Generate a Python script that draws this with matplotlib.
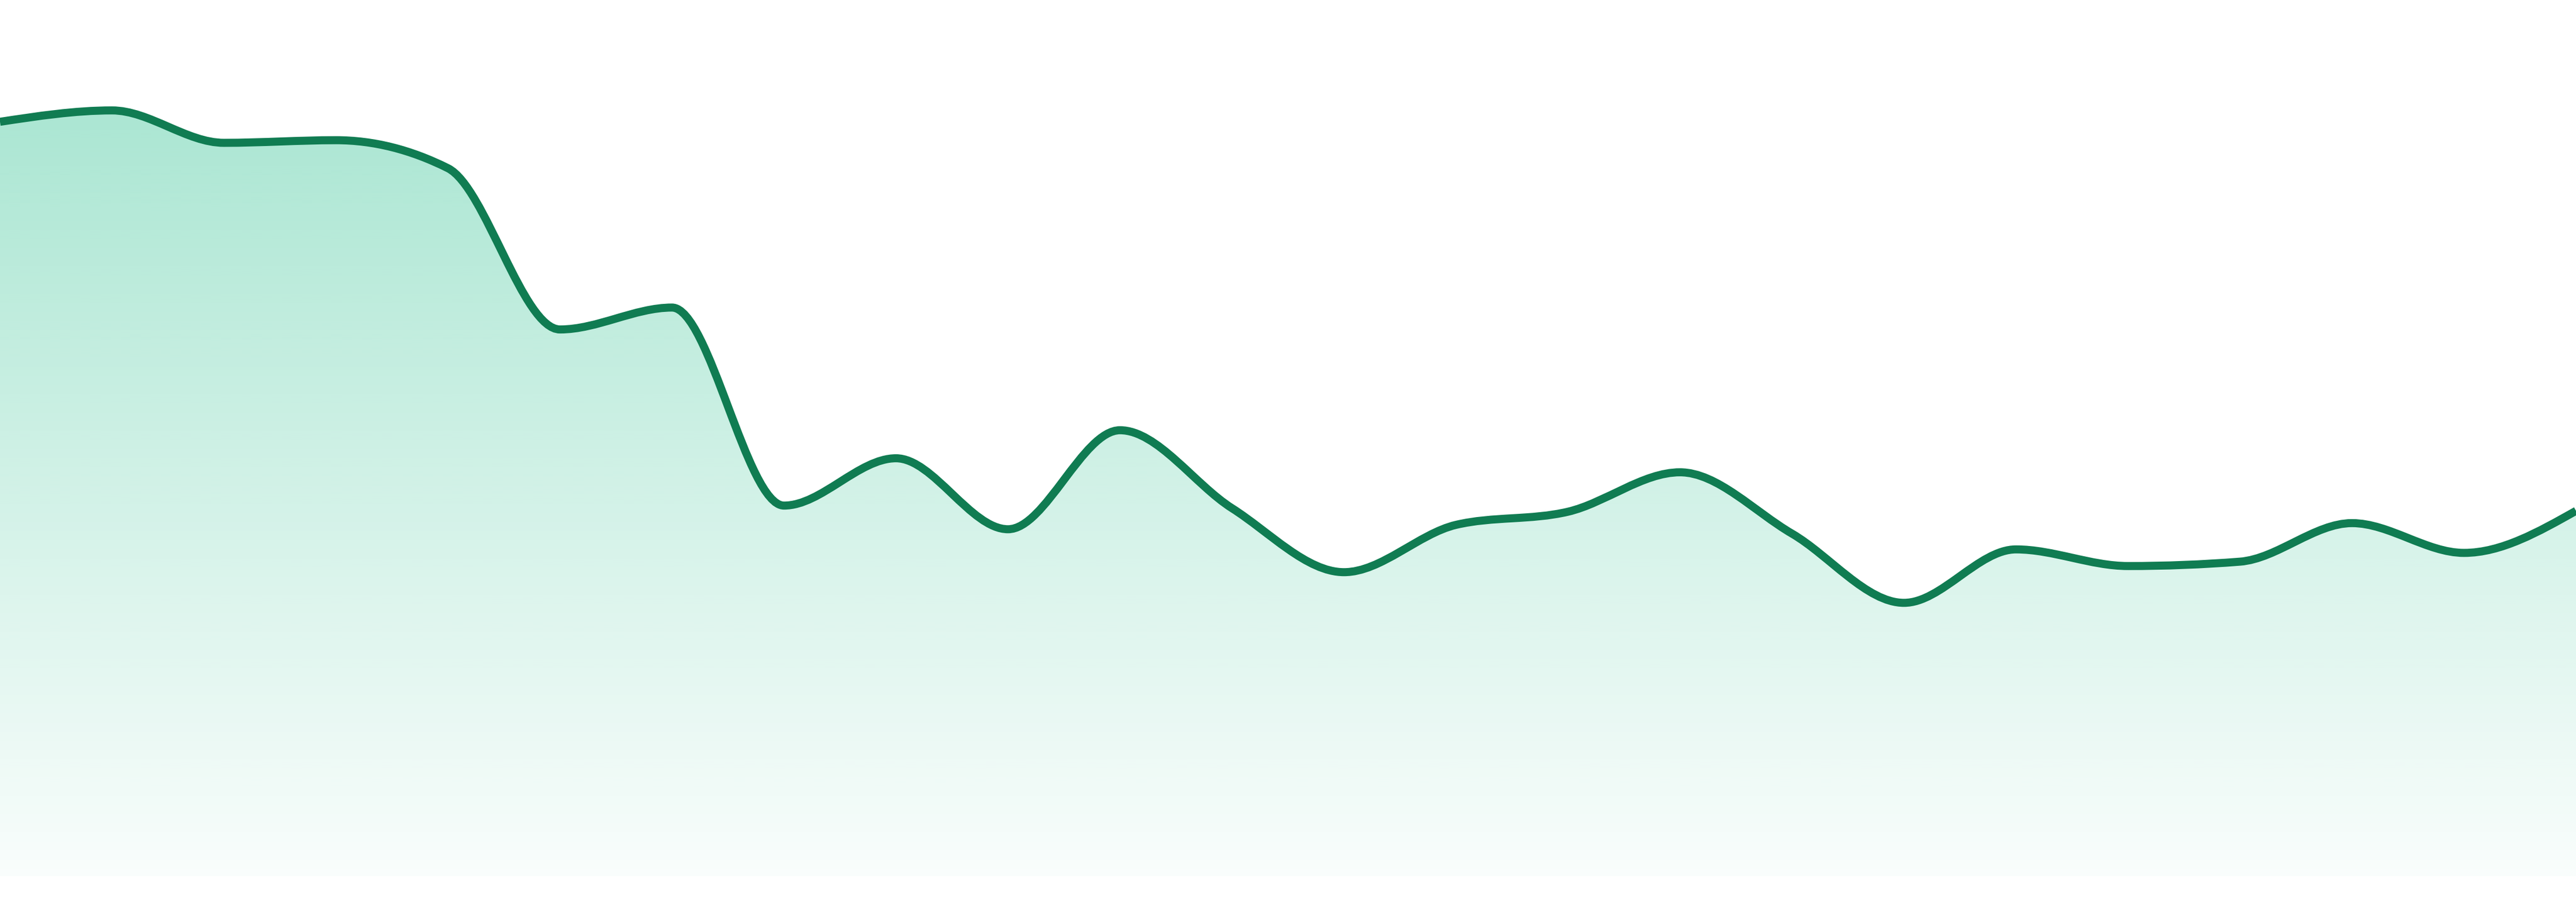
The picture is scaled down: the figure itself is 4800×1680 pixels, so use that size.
import numpy as np
import matplotlib
matplotlib.use('Agg')
import matplotlib.pyplot as plt
from matplotlib.path import Path
from matplotlib.patches import PathPatch

# series (0 = baseline, 100 = top of plot area)
values = [86.1, 87.4, 83.7, 84.0, 80.8, 62.4, 64.9, 42.3, 47.7, 39.6, 50.9, 42.0,
          34.7, 40.1, 41.6, 46.1, 39.1, 31.2, 37.3, 35.4, 35.9, 40.3, 36.9, 41.7]
steps = list(range(len(values)))

line_color = '#107c52'
fill_rgb = (16 / 255, 185 / 255, 129 / 255)
y_max = 100


def monotone_tangents(x, y):
    # same rule as d3.curveMonotoneX
    n = len(x)
    h = np.diff(x)
    s = np.diff(y) / h
    t = np.zeros(n)
    for i in range(1, n - 1):
        p = (s[i - 1] * h[i] + s[i] * h[i - 1]) / (h[i - 1] + h[i])
        sg = (1 if s[i - 1] >= 0 else -1) + (1 if s[i] >= 0 else -1)
        t[i] = sg * min(abs(s[i - 1]), abs(s[i]), 0.5 * abs(p))
    t[0] = (3 * s[0] - t[1]) / 2
    t[-1] = (3 * s[-1] - t[-2]) / 2
    return t


def curve_verts(x, y):
    t = monotone_tangents(x, y)
    verts = [(x[0], y[0])]
    codes = [Path.MOVETO]
    for i in range(len(x) - 1):
        dx = (x[i + 1] - x[i]) / 3
        verts += [(x[i] + dx, y[i] + dx * t[i]),
                  (x[i + 1] - dx, y[i + 1] - dx * t[i + 1]),
                  (x[i + 1], y[i + 1])]
        codes += [Path.CURVE4] * 3
    return verts, codes


x = np.array(steps, dtype=float)
y = np.array(values, dtype=float)

fig = plt.figure(figsize=(16, 5.6), dpi=300)
fig.patch.set_facecolor('white')
ax = fig.add_axes([0, 48 / 1680, 1, 1 - 48 / 1680])
ax.set_xlim(x[0], x[-1])
ax.set_ylim(0, y_max)
ax.axis('off')

verts, codes = curve_verts(x, y)

# area under the curve with vertical gradient
area_verts = verts + [(x[-1], 0), (x[0], 0), (x[0], y[0])]
area_codes = codes + [Path.LINETO, Path.LINETO, Path.CLOSEPOLY]
area = PathPatch(Path(area_verts, area_codes), facecolor='none', edgecolor='none')
ax.add_patch(area)

grad = np.zeros((256, 1, 4))
grad[:, 0, 0] = fill_rgb[0]
grad[:, 0, 1] = fill_rgb[1]
grad[:, 0, 2] = fill_rgb[2]
grad[:, 0, 3] = np.linspace(0.025, 0.40, 256)
im = ax.imshow(grad, extent=[x[0], x[-1], 0, y_max], origin='lower',
               aspect='auto', interpolation='bilinear', zorder=1)
im.set_clip_path(area)

line = PathPatch(Path(verts, codes), facecolor='none', edgecolor=line_color,
                 lw=3.6, zorder=2)
ax.add_patch(line)

fig.savefig('out.png', dpi=300, facecolor='white')
